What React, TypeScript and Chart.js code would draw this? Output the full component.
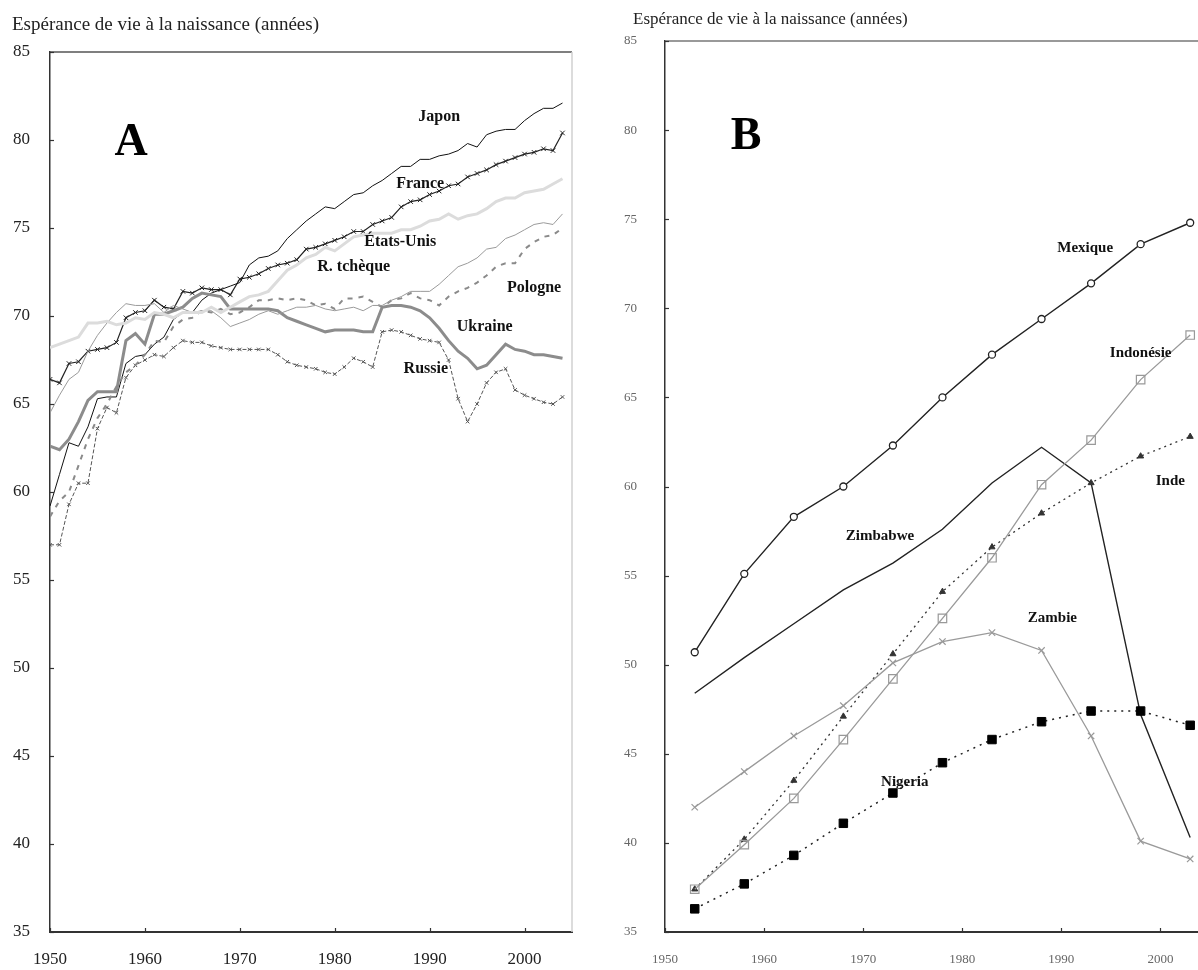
import React, { useEffect, useRef } from "react";
import { Chart, registerables } from "chart.js";

Chart.register(...registerables);

// ---------------- Panel A data (annual, 1950-2004) ----------------
const yearsA = [
  1950, 1951, 1952, 1953, 1954, 1955, 1956, 1957, 1958, 1959,
  1960, 1961, 1962, 1963, 1964, 1965, 1966, 1967, 1968, 1969,
  1970, 1971, 1972, 1973, 1974, 1975, 1976, 1977, 1978, 1979,
  1980, 1981, 1982, 1983, 1984, 1985, 1986, 1987, 1988, 1989,
  1990, 1991, 1992, 1993, 1994, 1995, 1996, 1997, 1998, 1999,
  2000, 2001, 2002, 2003, 2004,
];

const japon = [
  59.2, 61.0, 62.8, 62.6, 63.7, 65.3, 65.4, 65.4, 67.3, 67.7,
  67.8, 68.4, 68.8, 69.8, 70.2, 70.2, 70.9, 71.3, 71.5, 71.7,
  71.9, 72.9, 73.3, 73.4, 73.7, 74.4, 74.9, 75.4, 75.8, 76.2,
  76.1, 76.5, 76.9, 77.0, 77.4, 77.7, 78.1, 78.5, 78.5, 78.9,
  78.9, 79.1, 79.2, 79.4, 79.8, 79.6, 80.3, 80.5, 80.6, 80.6,
  81.1, 81.5, 81.8, 81.8, 82.1,
];

const france = [
  66.4, 66.2, 67.3, 67.4, 68.0, 68.1, 68.2, 68.5, 69.9, 70.2,
  70.3, 70.9, 70.5, 70.4, 71.4, 71.3, 71.6, 71.5, 71.5, 71.2,
  72.1, 72.2, 72.4, 72.7, 72.9, 73.0, 73.2, 73.8, 73.9, 74.1,
  74.3, 74.5, 74.8, 74.8, 75.2, 75.4, 75.6, 76.2, 76.5, 76.6,
  76.9, 77.1, 77.4, 77.5, 77.9, 78.1, 78.3, 78.6, 78.8, 79.0,
  79.2, 79.3, 79.5, 79.4, 80.4,
];

const etatsUnis = [
  68.2, 68.4, 68.6, 68.8, 69.6, 69.6, 69.7, 69.5, 69.6, 69.9,
  69.8, 70.2, 70.1, 69.9, 70.2, 70.2, 70.2, 70.5, 70.2, 70.5,
  70.8, 71.1, 71.2, 71.4, 72.0, 72.6, 72.9, 73.3, 73.5, 73.9,
  73.7, 74.1, 74.5, 74.6, 74.7, 74.7, 74.7, 74.9, 74.9, 75.1,
  75.4, 75.5, 75.8, 75.5, 75.7, 75.8, 76.1, 76.5, 76.7, 76.7,
  77.0, 77.1, 77.2, 77.5, 77.8,
];

const rTcheque = [
  64.5, 65.5, 66.4, 66.8, 68.0, 68.9, 69.6, 70.2, 70.7, 70.6,
  70.6, 70.7, 70.2, 70.6, 70.4, 70.2, 70.3, 70.3, 69.9, 69.4,
  69.6, 69.8, 70.1, 70.3, 70.1, 70.3, 70.5, 70.5, 70.6, 70.4,
  70.3, 70.4, 70.5, 70.3, 70.6, 70.6, 70.9, 71.1, 71.4, 71.4,
  71.4, 71.8, 72.3, 72.8, 73.0, 73.3, 73.8, 73.9, 74.4, 74.6,
  74.9, 75.2, 75.3, 75.2, 75.8,
];

const pologne = [
  58.6, 59.5, 60.0, 61.5, 63.0, 64.2, 65.0, 66.0, 66.8, 67.2,
  67.8, 68.6, 68.5, 69.4, 69.8, 69.9, 70.3, 70.2, 70.4, 70.1,
  70.2, 70.5, 70.9, 70.9, 71.0, 70.9, 71.0, 70.9, 70.6, 70.7,
  70.4, 71.0, 71.0, 71.1, 70.8, 70.5, 70.9, 71.0, 71.3, 71.0,
  70.9, 70.6, 71.1, 71.4, 71.6, 71.9, 72.3, 72.8, 73.0, 73.0,
  73.8, 74.2, 74.5, 74.6, 75.0,
];

const ukraine = [
  62.6, 62.4, 63.0, 64.0, 65.2, 65.7, 65.7, 65.7, 68.6, 69.0,
  68.4, 70.1, 70.1, 70.3, 70.5, 71.0, 71.3, 71.2, 71.1, 70.4,
  70.4, 70.4, 70.4, 70.4, 70.3, 69.9, 69.7, 69.5, 69.3, 69.1,
  69.2, 69.2, 69.2, 69.1, 69.1, 70.5, 70.6, 70.6, 70.5, 70.3,
  69.9, 69.3, 68.6, 68.0, 67.6, 67.0, 67.2, 67.8, 68.4, 68.1,
  68.0, 67.8, 67.8, 67.7, 67.6,
];

const russie = [
  57.0, 57.0, 59.3, 60.5, 60.5, 63.6, 64.8, 64.5, 66.5, 67.2,
  67.5, 67.8, 67.7, 68.2, 68.6, 68.5, 68.5, 68.3, 68.2, 68.1,
  68.1, 68.1, 68.1, 68.1, 67.8, 67.4, 67.2, 67.1, 67.0, 66.8,
  66.7, 67.1, 67.6, 67.4, 67.1, 69.1, 69.2, 69.1, 68.9, 68.7,
  68.6, 68.5, 67.5, 65.3, 64.0, 65.0, 66.2, 66.8, 67.0, 65.8,
  65.5, 65.3, 65.1, 65.0, 65.4,
];

const xTicksA = [1950, 1960, 1970, 1980, 1990, 2000];
const yTicksA = [35, 40, 45, 50, 55, 60, 65, 70, 75, 80, 85];

const labelTextsA = ["Japon", "France", "États-Unis", "R. tchèque", "Pologne", "Ukraine", "Russie"];
const labelXA = [1991.0, 1989.0, 1986.9, 1982.0, 2001.0, 1995.8, 1989.6];
const labelYA = [81.3, 77.5, 74.2, 72.8, 71.6, 69.4, 67.0];

// ---------------- Panel B data (5-year periods) ----------------
const yearsB = [1953, 1958, 1963, 1968, 1973, 1978, 1983, 1988, 1993, 1998, 2003];
const mexique = [50.7, 55.1, 58.3, 60.0, 62.3, 65.0, 67.4, 69.4, 71.4, 73.6, 74.8];
const zimbabwe = [48.4, 50.4, 52.3, 54.2, 55.7, 57.6, 60.2, 62.2, 60.2, 47.2, 40.3];
const indonesie = [37.4, 39.9, 42.5, 45.8, 49.2, 52.6, 56.0, 60.1, 62.6, 66.0, 68.5];
const inde = [37.4, 40.2, 43.5, 47.1, 50.6, 54.1, 56.6, 58.5, 60.2, 61.7, 62.8];
const zambie = [42.0, 44.0, 46.0, 47.7, 50.1, 51.3, 51.8, 50.8, 46.0, 40.1, 39.1];
const nigeria = [36.3, 37.7, 39.3, 41.1, 42.8, 44.5, 45.8, 46.8, 47.4, 47.4, 46.6];

const xTicksB = [1950, 1960, 1970, 1980, 1990, 2000];
const yTicksB = [35, 40, 45, 50, 55, 60, 65, 70, 75, 80, 85];

const labelTextsB = ["Mexique", "Indonésie", "Inde", "Zimbabwe", "Zambie", "Nigeria"];
const labelXB = [1992.4, 1998.0, 2001.0, 1971.7, 1989.1, 1974.2];
const labelYB = [73.4, 67.5, 60.3, 57.2, 52.6, 43.4];

const TITLE = "Espérance de vie à la naissance (années)";
const SERIF = "'Liberation Serif', 'DejaVu Serif', serif";

const pts = (xs: number[], ys: number[]) => xs.map((x, i) => ({ x, y: ys[i] }));

const framePlugin = {
  id: "frame",
  afterDraw(chart: any, _args: any, opts: any) {
    const { ctx, chartArea: ca, scales } = chart;
    const sx = scales.x;
    const sy = scales.y;
    ctx.save();
    // top border
    ctx.strokeStyle = opts.topColor;
    ctx.lineWidth = opts.topWidth;
    ctx.beginPath();
    ctx.moveTo(ca.left, ca.top);
    ctx.lineTo(ca.right, ca.top);
    ctx.stroke();
    if (opts.rightColor) {
      ctx.strokeStyle = opts.rightColor;
      ctx.lineWidth = opts.rightWidth;
      ctx.beginPath();
      ctx.moveTo(ca.right, ca.top);
      ctx.lineTo(ca.right, ca.bottom);
      ctx.stroke();
    }
    // inward tick marks
    ctx.strokeStyle = opts.tickColor;
    ctx.lineWidth = 1.2;
    sx.ticks.forEach((t: any) => {
      const px = Math.round(sx.getPixelForValue(t.value)) + 0.5;
      ctx.beginPath();
      ctx.moveTo(px, ca.bottom);
      ctx.lineTo(px, ca.bottom - opts.tickLen);
      ctx.stroke();
    });
    sy.ticks.forEach((t: any) => {
      const py = Math.round(sy.getPixelForValue(t.value)) + 0.5;
      ctx.beginPath();
      ctx.moveTo(ca.left, py);
      ctx.lineTo(ca.left + opts.tickLen, py);
      ctx.stroke();
    });
    // series labels
    ctx.fillStyle = "#111";
    ctx.font = opts.labelFont;
    ctx.textAlign = "center";
    ctx.textBaseline = "middle";
    opts.labelTexts.forEach((txt: string, i: number) => {
      ctx.fillText(txt, sx.getPixelForValue(opts.labelX[i]), sy.getPixelForValue(opts.labelY[i]));
    });
    // axis title
    ctx.fillStyle = "#222";
    ctx.font = opts.titleFont;
    ctx.textAlign = "left";
    ctx.textBaseline = "middle";
    ctx.fillText(TITLE, opts.titleX, opts.titleY);
    // panel letter
    ctx.fillStyle = "#000";
    ctx.font = opts.letterFont;
    ctx.textAlign = "center";
    ctx.fillText(opts.letter, opts.letterX, opts.letterY);
    ctx.restore();
  },
};

function makeScales(cfg: any) {
  return {
    x: {
      type: "linear",
      min: cfg.xMin,
      max: cfg.xMax,
      afterBuildTicks: (s: any) => {
        s.ticks = cfg.xTicks.map((v: number) => ({ value: v }));
      },
      afterFit: (s: any) => {
        s.height = cfg.xHeight;
      },
      grid: { display: false },
      border: { display: true, color: "#333", width: 2 },
      ticks: {
        autoSkip: false,
        maxRotation: 0,
        padding: cfg.xPad,
        color: cfg.tickColor,
        font: { family: SERIF, size: cfg.tickSize },
        callback: (v: any) => String(v),
      },
    },
    y: {
      type: "linear",
      min: 35,
      max: 85,
      afterBuildTicks: (s: any) => {
        s.ticks = cfg.yTicks.map((v: number) => ({ value: v }));
      },
      afterFit: (s: any) => {
        s.width = cfg.yWidth;
      },
      grid: { display: false },
      border: { display: true, color: "#333", width: 1.5 },
      ticks: {
        autoSkip: false,
        padding: cfg.yPad,
        color: cfg.tickColor,
        font: { family: SERIF, size: cfg.tickSize },
        callback: (v: any) => String(v),
      },
    },
  };
}

function PanelA() {
  const ref = useRef<HTMLCanvasElement>(null);
  useEffect(() => {
    const base = { tension: 0, fill: false, pointRadius: 0, pointHoverRadius: 0 };
    const chart = new Chart(ref.current as HTMLCanvasElement, {
      type: "line",
      data: {
        datasets: [
          { ...base, label: "États-Unis", data: pts(yearsA, etatsUnis), borderColor: "#dcdcdc", borderWidth: 3 },
          { ...base, label: "R. tchèque", data: pts(yearsA, rTcheque), borderColor: "#9a9a9a", borderWidth: 1 },
          { ...base, label: "Pologne", data: pts(yearsA, pologne), borderColor: "#8a8a8a", borderWidth: 2, borderDash: [5, 6] },
          { ...base, label: "Ukraine", data: pts(yearsA, ukraine), borderColor: "#8c8c8c", borderWidth: 3 },
          {
            ...base, label: "Russie", data: pts(yearsA, russie), borderColor: "#555", borderWidth: 1, borderDash: [4, 2],
            pointRadius: 2.5, pointStyle: "crossRot", pointBorderColor: "#555", pointBorderWidth: 1,
          },
          { ...base, label: "Japon", data: pts(yearsA, japon), borderColor: "#111", borderWidth: 1 },
          {
            ...base, label: "France", data: pts(yearsA, france), borderColor: "#222", borderWidth: 1.2,
            pointRadius: 3.2, pointStyle: "crossRot", pointBorderColor: "#222", pointBorderWidth: 1,
          },
        ],
      },
      options: {
        animation: false,
        responsive: false,
        devicePixelRatio: 1,
        layout: { padding: { top: 52, right: 18, left: 0, bottom: 0 } },
        plugins: {
          legend: { display: false },
          tooltip: { enabled: false },
          frame: {
            topColor: "#555", topWidth: 1.5, rightColor: "#d0d0d0", rightWidth: 1.5,
            tickColor: "#333", tickLen: 4,
            labelTexts: labelTextsA, labelX: labelXA, labelY: labelYA,
            labelFont: `bold 16px ${SERIF}`,
            titleFont: `19px ${SERIF}`, titleX: 12, titleY: 25,
            letter: "A", letterFont: `bold 46px ${SERIF}`, letterX: 131, letterY: 143,
          },
        } as any,
        scales: makeScales({
          xMin: 1950, xMax: 2005, xTicks: xTicksA, yTicks: yTicksA,
          xHeight: 38, yWidth: 50, xPad: 9, yPad: 12, tickSize: 17, tickColor: "#222",
        }) as any,
      },
      plugins: [framePlugin],
    });
    return () => chart.destroy();
  }, []);
  return <canvas ref={ref} width={590} height={970} style={{ position: "absolute", left: 0, top: 0 }} />;
}

function PanelB() {
  const ref = useRef<HTMLCanvasElement>(null);
  useEffect(() => {
    const base = { tension: 0, fill: false, pointHoverRadius: 0 };
    const chart = new Chart(ref.current as HTMLCanvasElement, {
      type: "line",
      data: {
        datasets: [
          {
            ...base, label: "Zambie", data: pts(yearsB, zambie), borderColor: "#9a9a9a", borderWidth: 1.3,
            pointRadius: 4.5, pointStyle: "crossRot", pointBorderColor: "#999", pointBorderWidth: 1.2,
          },
          {
            ...base, label: "Indonésie", data: pts(yearsB, indonesie), borderColor: "#9a9a9a", borderWidth: 1.3,
            pointRadius: 6, pointStyle: "rect", pointBorderColor: "#999", pointBackgroundColor: "rgba(255,255,255,0)", pointBorderWidth: 1.2,
          },
          {
            ...base, label: "Inde", data: pts(yearsB, inde), borderColor: "#333", borderWidth: 1.3, borderDash: [2, 4],
            pointRadius: 3.5, pointStyle: "triangle", pointBorderColor: "#333", pointBackgroundColor: "#333", pointBorderWidth: 1,
          },
          {
            ...base, label: "Nigeria", data: pts(yearsB, nigeria), borderColor: "#222", borderWidth: 1.5, borderDash: [2, 5],
            pointRadius: 6, pointStyle: "rect", pointBorderColor: "#000", pointBackgroundColor: "#000", pointBorderWidth: 1,
          },
          {
            ...base, label: "Zimbabwe", data: pts(yearsB, zimbabwe), borderColor: "#222", borderWidth: 1.4, pointRadius: 0,
          },
          {
            ...base, label: "Mexique", data: pts(yearsB, mexique), borderColor: "#222", borderWidth: 1.4,
            pointRadius: 3.5, pointStyle: "circle", pointBorderColor: "#222", pointBackgroundColor: "#fff", pointBorderWidth: 1.3,
          },
        ],
      },
      options: {
        animation: false,
        responsive: false,
        devicePixelRatio: 1,
        layout: { padding: { top: 41, right: 15, left: 0, bottom: 0 } },
        plugins: {
          legend: { display: false },
          tooltip: { enabled: false },
          frame: {
            topColor: "#777", topWidth: 1.5, rightColor: null, rightWidth: 0,
            tickColor: "#333", tickLen: 4,
            labelTexts: labelTextsB, labelX: labelXB, labelY: labelYB,
            labelFont: `bold 15px ${SERIF}`,
            titleFont: `17px ${SERIF}`, titleX: 33, titleY: 20,
            letter: "B", letterFont: `bold 46px ${SERIF}`, letterX: 146, letterY: 137,
          },
        } as any,
        scales: makeScales({
          xMin: 1950, xMax: 2005, xTicks: xTicksB, yTicks: yTicksB,
          xHeight: 38, yWidth: 65, xPad: 12, yPad: 20, tickSize: 13, tickColor: "#666",
        }) as any,
      },
      plugins: [framePlugin],
    });
    return () => chart.destroy();
  }, []);
  return <canvas ref={ref} width={625} height={970} style={{ position: "absolute", left: 600, top: 0 }} />;
}

export default function App() {
  return (
    <div
      style={{
        position: "absolute",
        left: 0,
        top: 0,
        width: 1198,
        height: 970,
        overflow: "hidden",
        background: "#fff",
      }}
    >
      <PanelA />
      <PanelB />
    </div>
  );
}
